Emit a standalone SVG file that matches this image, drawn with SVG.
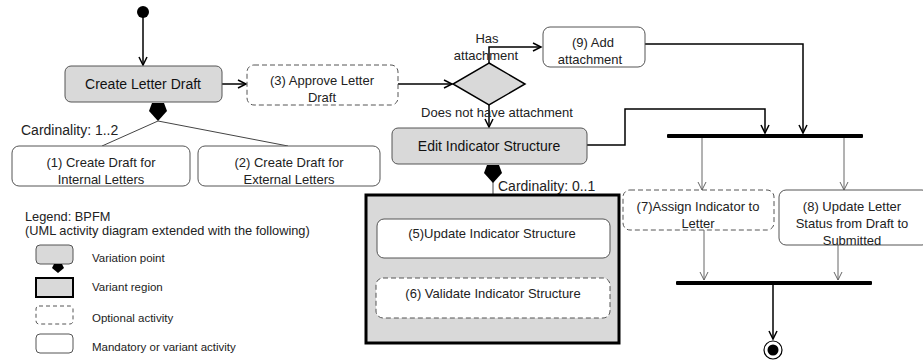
<svg xmlns="http://www.w3.org/2000/svg" width="923" height="362" viewBox="0 0 923 362">
<defs>
<style>
.g{fill:#d9d9d9;stroke:#555;stroke-width:1}
.w{fill:#fff;stroke:#555;stroke-width:1}
.d{fill:#fff;stroke:#555;stroke-width:1;stroke-dasharray:5,3}
.t{font-family:"Liberation Sans",Arial,sans-serif;font-size:14px;fill:#111;text-anchor:middle}
.c{font-family:"Liberation Sans",Arial,sans-serif;font-size:13px;fill:#222;text-anchor:middle}
.l{font-family:"Liberation Sans",Arial,sans-serif;font-size:12.8px;fill:#222}
.li{font-family:"Liberation Sans",Arial,sans-serif;font-size:11.5px;fill:#222}
.k{fill:none;stroke:#000;stroke-width:1.5}
.th{fill:none;stroke:#666;stroke-width:1}
.bar{fill:#000}
</style>
<marker id="a" markerWidth="12" markerHeight="12" refX="9" refY="5" orient="auto" markerUnits="userSpaceOnUse">
<path d="M1,1 L9,5 L1,9" fill="none" stroke="#000" stroke-width="1.5"/>
</marker>
<marker id="a2" markerWidth="12" markerHeight="12" refX="9" refY="5" orient="auto" markerUnits="userSpaceOnUse">
<path d="M1,1 L9,5 L1,9" fill="none" stroke="#666" stroke-width="1"/>
</marker>
</defs>
<rect width="923" height="362" fill="#fff"/>

<g id="connectors">
<line class="k" x1="143" y1="14" x2="143" y2="65" marker-end="url(#a)"/>
<line class="k" x1="222" y1="84" x2="246" y2="84" marker-end="url(#a)"/>
<line class="k" x1="398" y1="84" x2="452" y2="84" marker-end="url(#a)"/>
<polyline class="k" points="489,63 489,47 541,47" marker-end="url(#a)"/>
<line class="k" x1="489" y1="105" x2="489" y2="127" marker-end="url(#a)"/>
<polyline class="k" points="645,44 803,44 803,133" marker-end="url(#a)"/>
<polyline class="k" points="587,145 625,145 625,109 765,109 765,133" marker-end="url(#a)"/>
<line class="th" x1="702" y1="138" x2="702" y2="190" marker-end="url(#a2)"/>
<line class="th" x1="844" y1="138" x2="844" y2="190" marker-end="url(#a2)"/>
<line class="th" x1="704" y1="230" x2="704" y2="280" marker-end="url(#a2)"/>
<line class="th" x1="838" y1="245" x2="838" y2="280" marker-end="url(#a2)"/>
<line class="k" x1="773" y1="285" x2="773" y2="339" marker-end="url(#a)"/>
<line class="th" x1="492" y1="258" x2="492" y2="277" marker-end="url(#a2)"/>
<line stroke="#444" stroke-width="1" x1="158" y1="121" x2="102" y2="146"/>
<line stroke="#444" stroke-width="1" x1="158" y1="121" x2="288" y2="146"/>
<line stroke="#444" stroke-width="1" x1="493" y1="182" x2="493" y2="195"/>
</g>

<g id="start"><circle cx="143" cy="12" r="6" fill="#000"/></g>

<g id="create-letter-draft">
<rect class="g" x="65" y="66" width="157" height="36" rx="6"/>
<text class="t" x="143" y="89">Create Letter Draft</text>
<polygon points="152,103 164,103 167,111 158,121 149,111" fill="#000"/>
<text class="c" x="21" y="135" style="text-anchor:start;font-size:14px">Cardinality: 1..2</text>
</g>

<g id="approve">
<rect class="d" x="247" y="65" width="151" height="40" rx="7"/>
<text class="c" x="322" y="85">(3) Approve  Letter</text>
<text class="c" x="322" y="102">Draft</text>
</g>

<g id="create-internal">
<rect class="w" x="12" y="146" width="178" height="40" rx="7"/>
<text class="c" x="101" y="167">(1) Create  Draft for</text>
<text class="c" x="101" y="184">Internal Letters</text>
</g>

<g id="create-external">
<rect class="w" x="198" y="146" width="182" height="40" rx="7"/>
<text class="c" x="289" y="167">(2) Create  Draft for</text>
<text class="c" x="289" y="184">External Letters</text>
</g>

<g id="decision">
<polygon points="489,63 525,84 489,105 453,84" fill="#d9d9d9" stroke="#000" stroke-width="1.5"/>
<text class="c" x="487" y="43">Has</text>
<text class="c" x="486" y="60">attachment</text>
<text class="c" x="497" y="117">Does not have attachment</text>
</g>

<g id="add-attachment">
<rect class="w" x="543" y="27" width="102" height="40" rx="7"/>
<text class="c" x="593" y="47">(9) Add</text>
<text class="c" x="590" y="64">attachment</text>
</g>

<g id="edit-indicator">
<rect class="g" x="392" y="128" width="195" height="36" rx="6"/>
<text class="t" x="489" y="151">Edit Indicator Structure</text>
<polygon points="487,165 499,165 502,173 493,183 484,173" fill="#000"/>
<text class="c" x="498" y="191" style="text-anchor:start;font-size:14px">Cardinality: 0..1</text>
</g>

<g id="variant-region">
<rect x="366" y="195" width="253" height="148" fill="#d9d9d9" stroke="#000" stroke-width="3"/>
</g>

<g id="update-indicator">
<rect class="w" x="377" y="219" width="233" height="39" rx="7"/>
<text class="c" x="492" y="238">(5)Update  Indicator Structure</text>
</g>

<g id="validate-indicator">
<rect class="d" x="376" y="278" width="234" height="40" rx="7"/>
<text class="c" x="493" y="298">(6) Validate Indicator Structure</text>
</g>

<g id="fork"><rect class="bar" x="667" y="134" width="196" height="4" rx="1"/></g>

<g id="assign-indicator">
<rect class="d" x="623" y="190" width="151" height="40" rx="7"/>
<text class="c" x="698" y="211">(7)Assign Indicator to</text>
<text class="c" x="698" y="228">Letter</text>
</g>

<g id="update-status">
<rect class="w" x="779" y="190" width="150" height="55" rx="7"/>
<text class="c" x="852" y="211">(8) Update Letter</text>
<text class="c" x="852" y="228">Status from Draft to</text>
<text class="c" x="852" y="245">Submitted</text>
</g>

<g id="join"><rect class="bar" x="676" y="281" width="196" height="4" rx="1"/></g>

<g id="end">
<circle cx="773" cy="350" r="9" fill="#fff" stroke="#000" stroke-width="1.2"/>
<circle cx="773" cy="350" r="5.5" fill="#000"/>
</g>

<g id="legend">
<text class="l" x="25" y="221">Legend: BPFM</text>
<text class="l" x="25" y="235">(UML activity diagram extended with the following)</text>
<rect class="g" x="36" y="245" width="37" height="19" rx="4"/>
<polygon points="54,264 62,264 64,268 58,273 52,268" fill="#000"/>
<rect x="36" y="278" width="37" height="19" fill="#d9d9d9" stroke="#000" stroke-width="2"/>
<rect x="36" y="306" width="37" height="18" rx="3" fill="#fff" stroke="#555" stroke-dasharray="4,3"/>
<rect class="w" x="36" y="334" width="37" height="19" rx="4"/>
<text class="li" x="92" y="262">Variation point</text>
<text class="li" x="92" y="291">Variant region</text>
<text class="li" x="92" y="322">Optional activity</text>
<text class="li" x="92" y="351">Mandatory or variant activity</text>
</g>
</svg>
